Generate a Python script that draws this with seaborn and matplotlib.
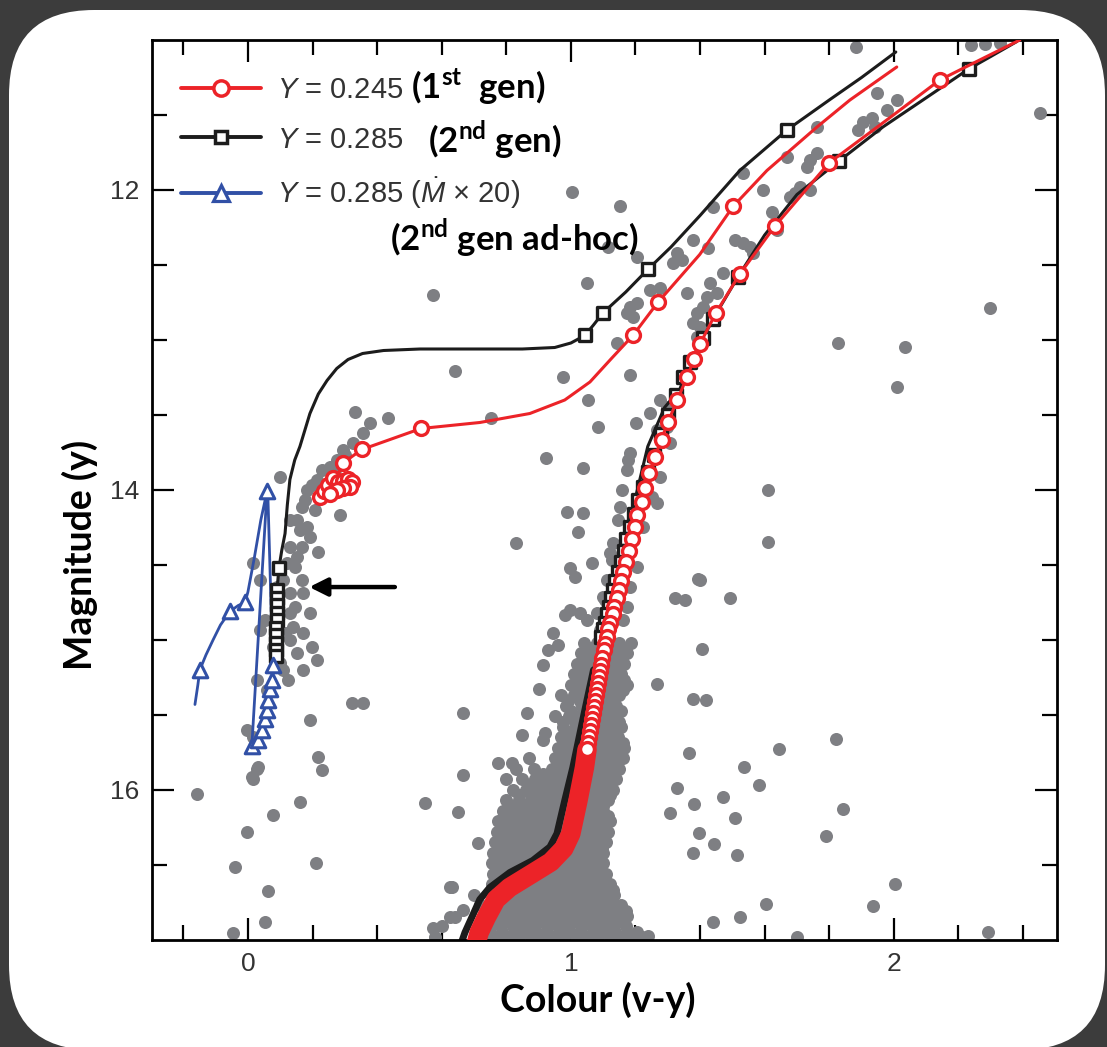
import numpy as np
import pandas as pd
import matplotlib
matplotlib.use("Agg")
import matplotlib.pyplot as plt
import seaborn as sns
from matplotlib.patches import FancyBboxPatch
from matplotlib.transforms import IdentityTransform
from matplotlib.lines import Line2D

# ---------------- data ----------------
# observed stars (colour v-y, magnitude y)
obs_upper = [
    (1.882, 11.047), (2.238, 11.033), (2.282, 11.027), (2.328, 11.02), (1.947, 11.353), (2.009, 11.40),
    (1.978, 11.467), (1.904, 11.547), (1.932, 11.52), (1.941, 11.58), (1.889, 11.60), (1.762, 11.58),
    (1.740, 11.80), (1.762, 11.753), (1.731, 11.847), (1.669, 11.78), (1.709, 11.98), (1.693, 12.02),
    (1.740, 12.00), (1.678, 12.047), (1.594, 12.00), (1.622, 12.147), (1.638, 12.267), (1.533, 11.887),
    (1.440, 12.113), (1.003, 12.013), (1.152, 12.107), (1.508, 12.333), (1.533, 12.353), (1.554, 12.38),
    (1.563, 12.42), (1.378, 12.333), (1.424, 12.387), (1.328, 12.42), (1.344, 12.467), (1.316, 12.487),
    (1.204, 12.447), (1.115, 12.38), (1.050, 12.62), (1.359, 12.687), (1.276, 12.653), (1.245, 12.667),
    (1.430, 12.62), (1.452, 12.687), (1.471, 12.553), (1.421, 12.713), (1.409, 12.78), (1.390, 12.82),
    (1.378, 12.887), (1.183, 12.78), (1.204, 12.753), (1.192, 12.847), (1.173, 12.82), (1.142, 13.02),
    (1.399, 12.913), (1.390, 12.98), (1.183, 13.233), (1.827, 13.02), (2.034, 13.047), (2.297, 12.787),
    (0.975, 13.247), (2.452, 11.487), (2.009, 13.313), (0.573, 12.70), (0.641, 13.207), (0.752, 13.52),
    (0.923, 13.787), (0.830, 14.353),
]
obs_hb = [
    (0.331, 13.48), (0.378, 13.553), (0.433, 13.52), (0.356, 13.62), (0.325, 13.687), (0.294, 13.733),
    (0.276, 13.80), (0.254, 13.847), (0.214, 13.933), (0.183, 14.0), (0.167, 14.113), (0.152, 14.20),
    (0.183, 14.247), (0.192, 14.313), (0.217, 14.413), (0.285, 14.167), (0.167, 14.38), (0.152, 14.447),
    (0.099, 13.913), (0.015, 14.487), (0.037, 14.60), (0.090, 14.647), (0.130, 14.687), (0.167, 14.60),
    (0.170, 14.687), (0.130, 14.82), (0.139, 14.913), (0.130, 15.0), (0.152, 15.087), (0.170, 15.20),
    (0.108, 15.20), (0.198, 15.047), (0.214, 15.133), (0.059, 15.333), (0.015, 15.647), (-0.003, 15.60),
    (0.031, 15.847), (0.012, 15.913), (0.192, 15.533), (0.217, 15.78), (0.229, 15.867), (0.322, 15.42),
    (0.356, 15.42), (0.099, 15.153), (0.124, 15.267), (0.028, 15.267), (0.053, 14.867), (0.037, 14.933),
    (0.161, 14.267), (0.130, 14.38), (0.121, 14.487), (0.146, 14.513), (0.108, 14.60), (0.146, 14.78),
    (0.115, 14.953), (0.077, 15.047), (0.170, 14.953), (0.192, 14.82), (0.269, 13.867), (0.300, 13.767),
    (0.229, 13.867), (0.198, 13.967), (0.238, 13.987), (0.176, 14.067), (0.207, 14.133), (0.130, 14.2),
]
obs_lower_left = [
    (-0.158, 16.027), (0.028, 15.86), (0.015, 15.927), (0.161, 16.08), (0.077, 16.167), (-0.003, 16.28),
    (-0.040, 16.513), (0.211, 16.487), (0.062, 16.673), (0.053, 16.88), (-0.046, 16.953), (0.548, 16.087),
    (0.573, 16.92), (0.625, 16.647), (0.625, 16.847),
]
obs_rgb = [
    (0.981, 14.833), (0.944, 14.953), (0.960, 15.033), (0.929, 15.067), (0.913, 15.167), (0.901, 15.327),
    (0.666, 15.487), (0.864, 15.487), (0.848, 15.633), (0.920, 15.62), (0.913, 15.667), (0.774, 15.82),
    (0.817, 15.82), (0.666, 15.90), (0.650, 16.147), (0.712, 16.353), (0.632, 16.647), (0.641, 16.847),
    (0.666, 16.80), (1.053, 13.40), (1.084, 13.58), (1.201, 13.553), (1.037, 13.853), (0.988, 14.147),
    (1.037, 14.153), (1.022, 14.28), (0.997, 14.52), (1.012, 14.58), (1.065, 14.487), (1.183, 13.753),
    (1.173, 13.867), (1.152, 14.113), (1.130, 14.353), (1.121, 14.42), (1.111, 14.60), (1.099, 14.713),
    (1.080, 14.82), (1.028, 14.82), (1.050, 14.867), (0.997, 14.80), (1.245, 13.487), (1.276, 13.40),
    (1.297, 13.447), (1.266, 13.60), (1.297, 13.58), (1.307, 13.687), (1.276, 13.913), (1.251, 14.047),
    (1.266, 14.087), (1.223, 14.247), (1.204, 14.513), (1.183, 14.647), (1.173, 14.78), (1.161, 14.867),
    (1.176, 13.80), (1.158, 14.0), (1.146, 14.2), (1.127, 14.467), (1.105, 14.733), (1.090, 14.933),
    (1.074, 15.133),
]
obs_right = [
    (1.610, 14.0), (1.610, 14.347), (1.393, 14.593), (1.322, 14.72), (1.353, 14.733), (1.492, 14.72),
    (1.399, 14.60), (1.406, 15.06), (1.266, 15.293), (1.378, 15.393), (1.418, 15.40), (1.365, 15.753),
    (1.328, 15.987), (1.381, 16.093), (1.307, 16.153), (1.471, 16.047), (1.508, 16.187), (1.536, 15.847),
    (1.582, 15.967), (1.644, 15.727), (1.820, 15.66), (1.842, 16.127), (1.789, 16.307), (1.396, 16.287),
    (1.443, 16.36), (1.378, 16.42), (1.514, 16.433), (2.003, 16.627), (1.935, 16.773), (1.604, 16.76),
    (1.523, 16.847), (1.440, 16.88), (1.700, 16.98), (2.291, 16.947), (1.238, 16.973),
]
# dense turn-off / sub-giant / lower RGB region: magnitude -> colours of stars in that row
obs_dense_rows = {
    16.98: [0.58, 0.735, 0.77, 0.805, 0.84, 0.875, 0.91, 0.945, 0.98, 1.015, 1.05, 1.085, 1.12, 1.155, 1.19, 1.22],
    16.945: [0.75, 0.7875, 0.8225, 0.8575, 0.8925, 0.9275, 0.9625, 0.9975, 1.0325, 1.0675, 1.1025, 1.1375, 1.1725, 1.205],
    16.91: [0.60, 0.75, 0.785, 0.82, 0.855, 0.89, 0.925, 0.96, 0.995, 1.03, 1.065, 1.10, 1.135, 1.17],
    16.875: [0.7675, 0.8025, 0.8375, 0.8725, 0.9075, 0.9425, 0.9775, 1.0125, 1.0475, 1.0825, 1.1175, 1.1525],
    16.84: [0.76, 0.795, 0.83, 0.865, 0.90, 0.935, 0.97, 1.005, 1.04, 1.075, 1.11, 1.145, 1.175],
    16.805: [0.7925, 0.8275, 0.8625, 0.8975, 0.9325, 0.9675, 1.0025, 1.0375, 1.0725, 1.1075, 1.14, 1.17],
    16.77: [0.72, 0.775, 0.81, 0.845, 0.88, 0.915, 0.95, 0.985, 1.02, 1.055, 1.09, 1.125, 1.155],
    16.735: [0.8075, 0.8425, 0.8775, 0.9125, 0.9475, 0.9825, 1.0175, 1.0525, 1.0875, 1.12],
    16.70: [0.70, 0.79, 0.825, 0.86, 0.895, 0.93, 0.965, 1.00, 1.035, 1.07, 1.105, 1.135],
    16.665: [0.77, 0.81, 0.8575, 0.8925, 0.9275, 0.9625, 0.9975, 1.0325, 1.0675, 1.1025, 1.13],
    16.63: [0.755, 0.79, 0.84, 0.875, 0.91, 0.945, 0.98, 1.015, 1.05, 1.085, 1.12],
    16.595: [0.775, 0.8125, 0.85, 0.8875, 0.9225, 0.9575, 0.9925, 1.0275, 1.0625, 1.095],
    16.56: [0.76, 0.795, 0.83, 0.87, 0.905, 0.94, 0.975, 1.01, 1.045, 1.08, 1.11],
    16.525: [0.7725, 0.8075, 0.8425, 0.8775, 0.9125, 0.9475, 0.9825, 1.0175, 1.0525, 1.085],
    16.49: [0.755, 0.79, 0.825, 0.86, 0.895, 0.93, 0.965, 1.00, 1.035, 1.07, 1.10],
    16.455: [0.7775, 0.8125, 0.8475, 0.8825, 0.9175, 0.9525, 0.9875, 1.0225, 1.0575, 1.09],
    16.42: [0.76, 0.795, 0.83, 0.865, 0.90, 0.935, 0.97, 1.005, 1.04, 1.075, 1.10],
    16.385: [0.7825, 0.8175, 0.8525, 0.8875, 0.9225, 0.9575, 0.9925, 1.0275, 1.0625, 1.095],
    16.35: [0.765, 0.80, 0.835, 0.87, 0.905, 0.94, 0.975, 1.01, 1.045, 1.08, 1.11],
    16.315: [0.7875, 0.8225, 0.8575, 0.8925, 0.9275, 0.9625, 0.9975, 1.0325, 1.0675, 1.10],
    16.28: [0.77, 0.805, 0.84, 0.875, 0.91, 0.945, 0.98, 1.015, 1.05, 1.085, 1.115],
    16.245: [0.7925, 0.8275, 0.8625, 0.8975, 0.9325, 0.9675, 1.0025, 1.0375, 1.0725, 1.105],
    16.21: [0.775, 0.81, 0.845, 0.88, 0.915, 0.95, 0.985, 1.02, 1.055, 1.09, 1.12],
    16.175: [0.8075, 0.8425, 0.8775, 0.9125, 0.9475, 0.9825, 1.0175, 1.0525, 1.0875, 1.115],
    16.14: [0.79, 0.825, 0.86, 0.895, 0.93, 0.965, 1.00, 1.035, 1.07, 1.10],
    16.105: [0.82, 0.8575, 0.8925, 0.9275, 0.9625, 0.9975, 1.0325, 1.0675, 1.10],
    16.07: [0.80, 0.84, 0.875, 0.91, 0.945, 0.98, 1.015, 1.05, 1.085, 1.115],
    16.035: [0.84, 0.8775, 0.9125, 0.9475, 0.9825, 1.0175, 1.0525, 1.085, 1.12],
    16.00: [0.82, 0.86, 0.895, 0.93, 0.965, 1.00, 1.035, 1.07, 1.10, 1.13],
    15.965: [0.87, 0.91, 0.9475, 0.9825, 1.0175, 1.0525, 1.0875, 1.12],
    15.93: [0.80, 0.85, 0.89, 0.93, 0.965, 1.00, 1.035, 1.07, 1.105, 1.14],
    15.895: [0.915, 0.9575, 0.9925, 1.0275, 1.0625, 1.0975, 1.13],
    15.86: [0.83, 0.885, 0.94, 0.975, 1.01, 1.045, 1.08, 1.115, 1.15],
    15.825: [0.965, 1.0025, 1.0375, 1.0725, 1.1075, 1.14],
    15.79: [0.87, 0.95, 0.985, 1.02, 1.055, 1.09, 1.125, 1.16],
    15.755: [0.975, 1.0125, 1.0475, 1.0825, 1.1175, 1.15],
    15.72: [0.96, 0.995, 1.03, 1.065, 1.10, 1.135, 1.165],
    15.685: [0.985, 1.0225, 1.0575, 1.0925, 1.1275, 1.16],
    15.65: [0.97, 1.005, 1.04, 1.075, 1.11, 1.145],
    15.615: [0.99, 1.0325, 1.0675, 1.1025, 1.1375],
    15.58: [0.975, 1.015, 1.05, 1.085, 1.12, 1.155],
    15.545: [0.975, 1.0125, 1.0475, 1.0825, 1.1175, 1.15],
    15.51: [0.95, 0.995, 1.03, 1.065, 1.10, 1.135],
    15.475: [1.00, 1.0525, 1.0875, 1.1225, 1.155],
    15.44: [0.985, 1.035, 1.07, 1.105, 1.14],
    15.405: [0.99, 1.0275, 1.0625, 1.0975, 1.1325],
    15.37: [0.97, 1.01, 1.045, 1.08, 1.115, 1.15],
    15.335: [1.02, 1.0575, 1.0925, 1.1275, 1.16],
    15.30: [1.0, 1.04, 1.075, 1.11, 1.145, 1.175],
    15.265: [1.03, 1.0675, 1.1025, 1.1375, 1.165],
    15.23: [1.01, 1.05, 1.085, 1.12, 1.155],
    15.195: [1.04, 1.0775, 1.1125, 1.1475],
    15.16: [1.02, 1.06, 1.095, 1.13, 1.165],
    15.125: [1.05, 1.0875, 1.1225, 1.1575],
    15.09: [1.03, 1.07, 1.105, 1.14, 1.175],
    15.055: [1.06, 1.0975, 1.1325, 1.165],
    15.02: [1.04, 1.08, 1.115, 1.15, 1.185],
}

# model tracks -- Y = 0.245 (1st gen), red
red_rgb_colour = [0.706, 0.716, 0.738, 0.768, 0.810, 0.878, 0.938, 0.978, 1.000, 1.022, 1.042, 1.053,
                  1.065, 1.077, 1.090, 1.102, 1.115, 1.130, 1.149, 1.170, 1.198, 1.229, 1.260, 1.300,
                  1.359, 1.399, 1.449, 1.523, 1.632, 1.799, 1.980, 2.142, 2.266, 2.390]
red_rgb_mag = [17.03, 16.95, 16.85, 16.73, 16.65, 16.56, 16.48, 16.39, 16.29, 16.07, 15.85, 15.69,
               15.53, 15.37, 15.21, 15.07, 14.93, 14.83, 14.67, 14.48, 14.25, 13.99, 13.78, 13.55,
               13.25, 13.03, 12.82, 12.56, 12.24, 11.82, 11.53, 11.267, 11.133, 11.00]
red_band_colour = [0.706, 0.716, 0.738, 0.768, 0.810, 0.878, 0.938, 0.978, 1.000, 1.022, 1.042, 1.050]
red_band_mag = [17.03, 16.95, 16.85, 16.73, 16.65, 16.56, 16.48, 16.39, 16.29, 16.07, 15.85, 15.73]
red_rgb_mk_colour = [2.142, 1.799, 1.632, 1.523, 1.449, 1.399, 1.381, 1.359, 1.328, 1.300, 1.282, 1.260,
                     1.241, 1.229, 1.220, 1.204, 1.198, 1.189, 1.180, 1.170, 1.161, 1.155, 1.149, 1.142,
                     1.133, 1.130, 1.121, 1.115, 1.111, 1.105, 1.102, 1.096, 1.093, 1.090, 1.087, 1.084,
                     1.080, 1.077, 1.074, 1.071, 1.068, 1.065, 1.062, 1.059, 1.056, 1.053, 1.050]
red_rgb_mk_mag = [11.267, 11.82, 12.24, 12.56, 12.82, 13.03, 13.13, 13.25, 13.40, 13.55, 13.67, 13.78,
                  13.89, 13.99, 14.08, 14.17, 14.25, 14.33, 14.41, 14.48, 14.55, 14.61, 14.67, 14.72,
                  14.78, 14.83, 14.89, 14.93, 14.98, 15.03, 15.07, 15.12, 15.17, 15.21, 15.25, 15.29,
                  15.33, 15.37, 15.41, 15.45, 15.49, 15.53, 15.57, 15.61, 15.65, 15.69, 15.73]
red_hb_colour = [0.223, 0.235, 0.248, 0.263, 0.279, 0.294, 0.310, 0.322, 0.316, 0.294, 0.276, 0.254,
                 0.294, 0.353, 0.536, 0.718, 0.873, 0.981, 1.059, 1.127, 1.192, 1.269, 1.399, 1.502,
                 1.607, 1.762, 1.864, 2.009]
red_hb_mag = [14.05, 14.01, 13.97, 13.92, 13.95, 13.94, 13.93, 13.95, 13.98, 13.99, 14.00, 14.03,
              13.82, 13.73, 13.59, 13.55, 13.49, 13.40, 13.28, 13.12, 12.97, 12.75, 12.43, 12.11,
              11.87, 11.58, 11.40, 11.18]
red_hb_mk_colour = [0.223, 0.235, 0.248, 0.263, 0.279, 0.294, 0.310, 0.322, 0.316, 0.294, 0.276, 0.254,
                    0.294, 0.353, 0.536, 1.192, 1.269, 1.502]
red_hb_mk_mag = [14.05, 14.01, 13.97, 13.92, 13.95, 13.94, 13.93, 13.95, 13.98, 13.99, 14.00, 14.03,
                 13.82, 13.73, 13.59, 12.97, 12.75, 12.11]

# Y = 0.285 (2nd gen), black
blk_rgb_colour = [0.659, 0.672, 0.693, 0.718, 0.749, 0.811, 0.882, 0.935, 0.957, 0.981, 1.006, 1.040,
                  1.070, 1.096, 1.140, 1.189, 1.238, 1.290, 1.337, 1.368, 1.409, 1.440, 1.517, 1.600,
                  1.700, 1.830, 1.966, 2.090, 2.232, 2.300, 2.381]
blk_rgb_mag = [17.03, 16.95, 16.85, 16.73, 16.65, 16.55, 16.47, 16.38, 16.29, 16.07, 15.85, 15.50,
               15.20, 14.98, 14.60, 14.15, 13.71, 13.45, 13.33, 13.15, 12.99, 12.86, 12.58, 12.30,
               12.03, 11.807, 11.58, 11.40, 11.193, 11.11, 11.01]
blk_band_colour = [0.659, 0.672, 0.693, 0.718, 0.749, 0.811, 0.882, 0.935, 0.957, 0.981, 1.006, 1.040, 1.070]
blk_band_mag = [17.03, 16.95, 16.85, 16.73, 16.65, 16.55, 16.47, 16.38, 16.29, 16.07, 15.85, 15.50, 15.20]
blk_rgb_mk_colour = [2.232, 1.830, 1.517, 1.440, 1.409, 1.368, 1.347, 1.325, 1.300, 1.279, 1.257, 1.238,
                     1.223, 1.207, 1.195, 1.183, 1.172, 1.163, 1.154, 1.145, 1.138, 1.131, 1.124, 1.117,
                     1.111, 1.105, 1.099, 1.094]
blk_rgb_mk_mag = [11.193, 11.807, 12.58, 12.86, 12.99, 13.15, 13.25, 13.37, 13.50, 13.63, 13.77, 13.88,
                  13.98, 14.07, 14.16, 14.25, 14.33, 14.41, 14.48, 14.55, 14.61, 14.67, 14.72, 14.78,
                  14.83, 14.89, 14.93, 14.98]
blk_hb_colour = [0.087, 0.087, 0.088, 0.090, 0.090, 0.092, 0.096, 0.105, 0.115, 0.122, 0.130, 0.145,
                 0.161, 0.192, 0.218, 0.245, 0.275, 0.310, 0.355, 0.420, 0.533, 0.700, 0.850, 0.950,
                 1.000, 1.043, 1.070, 1.099, 1.170, 1.238, 1.310, 1.400, 1.523, 1.669, 1.800, 1.900, 2.006]
blk_hb_mag = [15.11, 15.02, 14.92, 14.82, 14.72, 14.62, 14.52, 14.40, 14.29, 14.10, 13.93, 13.80,
              13.71, 13.49, 13.36, 13.27, 13.19, 13.13, 13.09, 13.07, 13.06, 13.06, 13.06, 13.05,
              13.02, 12.97, 12.90, 12.82, 12.68, 12.53, 12.38, 12.17, 11.87, 11.60, 11.40, 11.25, 11.08]
blk_hb_mk_colour = [0.096, 0.090, 0.090, 0.091, 0.090, 0.089, 0.088, 0.088, 0.087, 0.087, 0.087,
                    1.043, 1.099, 1.238, 1.669]
blk_hb_mk_mag = [14.52, 14.67, 14.72, 14.77, 14.82, 14.87, 14.92, 14.97, 15.02, 15.07, 15.11,
                 12.97, 12.82, 12.53, 11.60]

# Y = 0.285 (Mdot x 20), blue
blu_colour = [-0.164, -0.155, -0.149, -0.130, -0.108, -0.085, -0.056, -0.030, -0.009, 0.000, 0.020,
              0.040, 0.059, 0.012, 0.031, 0.043, 0.053, 0.059, 0.062, 0.068, 0.074, 0.077, 0.062]
blu_mag = [15.43, 15.30, 15.20, 15.10, 15.00, 14.90, 14.81, 14.77, 14.75, 14.68, 14.45,
           14.20, 14.01, 15.71, 15.67, 15.60, 15.53, 15.47, 15.40, 15.33, 15.27, 15.17, 14.05]
blu_mk_colour = [-0.149, -0.056, -0.009, 0.059, 0.012, 0.031, 0.043, 0.053, 0.059, 0.062, 0.068, 0.074, 0.077]
blu_mk_mag = [15.20, 14.81, 14.75, 14.01, 15.71, 15.67, 15.60, 15.53, 15.47, 15.40, 15.33, 15.27, 15.17]

arrow_tail = (0.455, 14.647)
arrow_head = (0.190, 14.647)

legend_labels = ["$Y$ = 0.245", "$Y$ = 0.285", "$Y$ = 0.285 ($\\dot{M}$ × 20)"]
notes = ["(1$^{\\mathbf{st}}$  gen)", "(2$^{\\mathbf{nd}}$ gen)", "(2$^{\\mathbf{nd}}$ gen ad-hoc)"]
note_pos = [(0.505, 11.31), (0.557, 11.67), (0.440, 12.32)]

x_major = [0, 1, 2]
y_major = [12, 14, 16]

# ---------------- style ----------------
sns.set_theme(style="ticks")
plt.rcParams["font.family"] = ["Liberation Sans", "DejaVu Sans"]
plt.rcParams["mathtext.fontset"] = "custom"
plt.rcParams["mathtext.rm"] = "Liberation Sans"
plt.rcParams["mathtext.it"] = "Liberation Sans:italic"
plt.rcParams["mathtext.bf"] = "Lato:bold"

RED = "#ec2328"
BLK = "#1c1c1c"
BLU = "#3150a6"
GRAY = "#7e7f83"
TXT = "#333333"

fig = plt.figure(figsize=(11.07, 10.47), dpi=100)
fig.patch.set_facecolor("#3c3c3c")
panel = FancyBboxPatch((9, -3), 1096, 1040, boxstyle="round,pad=0,rounding_size=85",
                       transform=IdentityTransform(), facecolor="white", edgecolor="none", zorder=0)
fig.add_artist(panel)

ax = fig.add_axes([0.1373, 0.1022, 0.8175, 0.8596])
ax.set_facecolor("white")

# observed stars
pts = obs_upper + obs_hb + obs_lower_left + obs_rgb + obs_right
for mag, cols in obs_dense_rows.items():
    pts = pts + [(c, mag) for c in cols]
obs = pd.DataFrame(pts, columns=["colour", "mag"])
sns.scatterplot(data=obs, x="colour", y="mag", color=GRAY, s=88, linewidth=0, ax=ax, zorder=1)

# tracks
sns.lineplot(x=blk_band_colour, y=blk_band_mag, sort=False, estimator=None, color=BLK, linewidth=5.0, ax=ax, zorder=2)
sns.lineplot(x=blk_rgb_colour, y=blk_rgb_mag, sort=False, estimator=None, color=BLK, linewidth=2.2, ax=ax, zorder=2)
sns.scatterplot(x=blk_rgb_mk_colour, y=blk_rgb_mk_mag, marker="s", s=70, color="white",
                edgecolor=BLK, linewidth=2.4, ax=ax, zorder=3)
sns.lineplot(x=red_band_colour, y=red_band_mag, sort=False, estimator=None, color=RED, linewidth=14, ax=ax, zorder=4)
sns.lineplot(x=red_rgb_colour, y=red_rgb_mag, sort=False, estimator=None, color=RED, linewidth=2.2, ax=ax, zorder=4)
sns.scatterplot(x=red_rgb_mk_colour, y=red_rgb_mk_mag, marker="o", s=100, color="white",
                edgecolor=RED, linewidth=2.4, ax=ax, zorder=5)

sns.lineplot(x=blk_hb_colour, y=blk_hb_mag, sort=False, estimator=None, color=BLK, linewidth=2.2, ax=ax, zorder=4)
sns.scatterplot(x=blk_hb_mk_colour, y=blk_hb_mk_mag, marker="s", s=70, color="white",
                edgecolor=BLK, linewidth=2.4, ax=ax, zorder=5)
sns.lineplot(x=red_hb_colour, y=red_hb_mag, sort=False, estimator=None, color=RED, linewidth=2.2, ax=ax, zorder=4)
sns.scatterplot(x=red_hb_mk_colour, y=red_hb_mk_mag, marker="o", s=100, color="white",
                edgecolor=RED, linewidth=2.4, ax=ax, zorder=5)
sns.lineplot(x=blu_colour, y=blu_mag, sort=False, estimator=None, color=BLU, linewidth=2.0, ax=ax, zorder=4)
sns.scatterplot(x=blu_mk_colour, y=blu_mk_mag, marker="^", s=110, color="white",
                edgecolor=BLU, linewidth=2.2, ax=ax, zorder=5)

ax.annotate("", xy=arrow_head, xytext=arrow_tail,
            arrowprops=dict(arrowstyle="-|>,head_length=0.9,head_width=0.45", color="black", lw=3.2,
                            shrinkA=0, shrinkB=0), zorder=6)

# axes
ax.set_xlim(-0.297, 2.505)
ax.set_ylim(17.0, 11.0)
ax.set_xticks(x_major)
ax.set_xticks(np.arange(-0.2, 2.41, 0.2), minor=True)
ax.set_yticks(y_major)
ax.set_yticks(np.arange(11.5, 17.0, 0.5), minor=True)
ax.set_xticklabels([str(v) for v in x_major])
ax.set_yticklabels([str(v) for v in y_major])
ax.tick_params(which="both", direction="in", top=True, right=True, color="black", width=1.6,
               labelcolor=TXT, labelsize=19)
ax.tick_params(which="major", length=16)
ax.tick_params(which="minor", length=11)
ax.tick_params(axis="x", which="major", pad=9)
ax.tick_params(axis="y", which="major", pad=9)
for sp in ax.spines.values():
    sp.set_linewidth(2.0)
    sp.set_color("black")

ax.set_xlabel("Colour (v-y)", fontsize=27, fontweight="bold", family="Lato", color="black")
ax.set_ylabel("Magnitude (y)", fontsize=27, fontweight="bold", family="Lato", color="black")
ax.xaxis.set_label_coords(0.493, -0.046)
ax.yaxis.set_label_coords(-0.060, 0.428)

handles = [
    Line2D([], [], color=RED, lw=2.8, marker="o", ms=11, mfc="white", mec=RED, mew=2.5),
    Line2D([], [], color=BLK, lw=2.8, marker="s", ms=9, mfc="white", mec=BLK, mew=2.5),
    Line2D([], [], color=BLU, lw=2.8, marker="^", ms=11.5, mfc="white", mec=BLU, mew=2.3),
]
leg = ax.legend(handles, legend_labels, loc="upper left", bbox_to_anchor=(0.032, 0.960), frameon=False,
                fontsize=21, handlelength=2.76, handletextpad=0.52, labelspacing=0.74,
                borderaxespad=0, borderpad=0)
for t in leg.get_texts():
    t.set_color(TXT)

for txt, (xx, yy) in zip(notes, note_pos):
    ax.text(xx, yy, txt, fontsize=25, fontweight="bold", family="Lato", color="black",
            ha="left", va="center", zorder=7)

fig.savefig("out.png", dpi=100, facecolor=fig.get_facecolor())
